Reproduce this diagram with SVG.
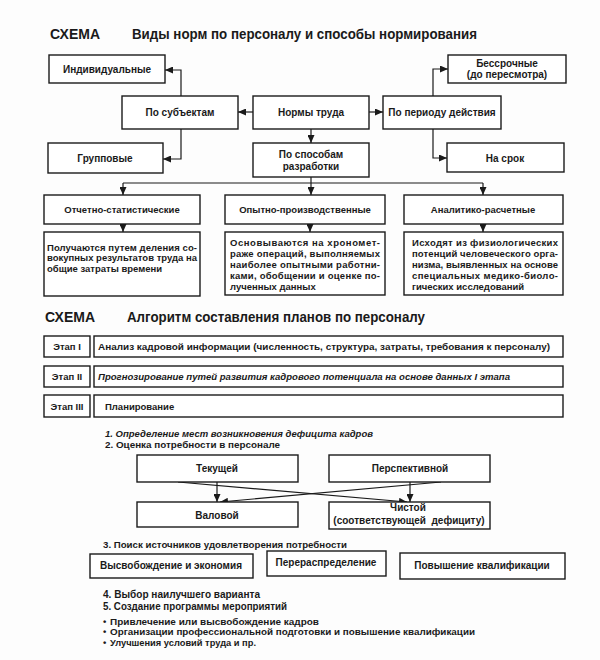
<svg xmlns="http://www.w3.org/2000/svg" width="600" height="660" viewBox="0 0 600 660">
<style>
.bg{fill:#fdfdfd}
.b{fill:#fff;stroke:#1a1a1a;stroke-width:1.4}
.t{font-family:"Liberation Sans",Arial,sans-serif;font-weight:bold;font-size:10px;fill:#1a1a1a}
.s{font-size:9.5px}
.h{font-size:14px}
.c{text-anchor:middle}
.i{font-style:italic}
.ln{fill:none;stroke:#1a1a1a;stroke-width:1.2;marker-end:url(#ah)}
.pl{fill:none;stroke:#1a1a1a;stroke-width:1.2}
</style>
<defs>
<marker id="ah" markerUnits="userSpaceOnUse" markerWidth="8" markerHeight="7" refX="8" refY="3.5" orient="auto">
<path d="M0,0 L8,3.5 L0,7 z" fill="#1a1a1a"/>
</marker>
</defs>
<rect class="bg" x="0" y="0" width="600" height="660"/>

<!-- Schema 1 title -->
<text class="t h" x="50" y="39">СХЕМА</text>
<text class="t h" x="132" y="39" textLength="345" lengthAdjust="spacingAndGlyphs">Виды норм по персоналу и способы нормирования</text>

<g id="connectors1">
<path class="ln" d="M181,96 V70 H165"/>
<path class="ln" d="M181,129 V159 H163"/>
<path class="ln" d="M253,112 H238"/>
<path class="ln" d="M369,112 H383"/>
<path class="ln" d="M311,129 V143"/>
<path class="ln" d="M433,96 V69 H448"/>
<path class="ln" d="M433,129 V158 H447"/>
<path class="ln" d="M311,177 V195"/>
<path class="pl" d="M123,183 H483"/>
<path class="ln" d="M123,183 V195"/>
<path class="ln" d="M483,183 V195"/>
<path class="ln" d="M123,224 V232"/>
<path class="ln" d="M310,224 V232"/>
<path class="ln" d="M483,224 V232"/>
</g>

<g id="individual"><rect class="b" x="49" y="55" width="116" height="28"/><text class="t c" x="107" y="72.5">Индивидуальные</text></g>
<g id="by-subject"><rect class="b" x="122" y="96" width="116" height="33"/><text class="t c" x="180" y="116">По субъектам</text></g>
<g id="labor-norms"><rect class="b" x="253" y="96" width="116" height="33"/><text class="t c" x="311" y="116">Нормы труда</text></g>
<g id="by-period"><rect class="b" x="383" y="96" width="118" height="33"/><text class="t c" x="442" y="116">По периоду действия</text></g>
<g id="group"><rect class="b" x="48" y="143" width="115" height="30"/><text class="t c" x="105" y="162">Групповые</text></g>
<g id="indefinite"><rect class="b" x="448" y="55" width="118" height="28"/><text class="t c" x="507" y="66.5">Бессрочные</text><text class="t c" x="507" y="78">(до пересмотра)</text></g>
<g id="fixed-term"><rect class="b" x="447" y="143" width="117" height="29"/><text class="t c" x="505" y="161.5">На срок</text></g>
<g id="by-method"><rect class="b" x="253" y="143" width="116" height="34"/><text class="t c" x="311" y="157.5">По способам</text><text class="t c" x="311" y="169.5">разработки</text></g>

<g id="statistical"><rect class="b" x="44" y="195" width="156" height="29"/><text class="t s c" x="122" y="213">Отчетно-статистические</text></g>
<g id="experimental"><rect class="b" x="225" y="195" width="160" height="29"/><text class="t s c" x="305" y="213">Опытно-производственные</text></g>
<g id="analytical"><rect class="b" x="404" y="195" width="159" height="29"/><text class="t s c" x="483" y="213">Аналитико-расчетные</text></g>

<g id="statistical-desc"><rect class="b" x="44" y="232" width="156" height="64"/>
<text class="t s" x="47" y="250.5" textLength="150" lengthAdjust="spacing">Получаются путем деления со-</text>
<text class="t s" x="47" y="261" textLength="150" lengthAdjust="spacing">вокупных результатов труда на</text>
<text class="t s" x="47" y="271.5">общие затраты времени</text>
</g>
<g id="experimental-desc"><rect class="b" x="225" y="232" width="160" height="63"/>
<text class="t s" x="230" y="246" textLength="150" lengthAdjust="spacing">Основываются на хрономет-</text>
<text class="t s" x="230" y="257" textLength="150" lengthAdjust="spacing">раже операций, выполняемых</text>
<text class="t s" x="230" y="268" textLength="150" lengthAdjust="spacing">наиболее опытными работни-</text>
<text class="t s" x="230" y="279" textLength="150" lengthAdjust="spacing">ками, обобщении и оценке по-</text>
<text class="t s" x="230" y="290">лученных данных</text>
</g>
<g id="analytical-desc"><rect class="b" x="404" y="232" width="159" height="63"/>
<text class="t s" x="412" y="246" textLength="146" lengthAdjust="spacing">Исходят из физиологических</text>
<text class="t s" x="412" y="257" textLength="146" lengthAdjust="spacing">потенций человеческого орга-</text>
<text class="t s" x="412" y="268" textLength="146" lengthAdjust="spacing">низма, выявленных на основе</text>
<text class="t s" x="412" y="279" textLength="146" lengthAdjust="spacing">специальных  медико-биоло-</text>
<text class="t s" x="412" y="290">гических исследований</text>
</g>

<!-- Schema 2 -->
<text class="t h" x="45" y="322">СХЕМА</text>
<text class="t h" x="127" y="322" textLength="298" lengthAdjust="spacingAndGlyphs">Алгоритм составления планов по персоналу</text>

<g id="stage1"><rect class="b" x="44" y="336" width="46" height="21"/><text class="t s c" x="67" y="350">Этап I</text>
<rect class="b" x="94" y="336" width="469" height="21"/><text class="t s" x="98" y="350" textLength="452" lengthAdjust="spacingAndGlyphs">Анализ кадровой информации (численность, структура, затраты, требования к персоналу)</text></g>
<g id="stage2"><rect class="b" x="44" y="366" width="46" height="21"/><text class="t s c" x="67" y="380">Этап II</text>
<rect class="b" x="94" y="366" width="469" height="21"/><text class="t s i" x="98" y="380" textLength="412" lengthAdjust="spacingAndGlyphs">Прогнозирование путей развития кадрового потенциала на основе данных I этапа</text></g>
<g id="stage3"><rect class="b" x="44" y="395" width="46" height="22"/><text class="t s c" x="67" y="409.5">Этап III</text>
<rect class="b" x="94" y="395" width="469" height="22"/><text class="t s" x="105" y="409.5">Планирование</text></g>

<text class="t s i" x="105" y="437" textLength="268" lengthAdjust="spacingAndGlyphs">1. Определение мест возникновения дефицита кадров</text>
<text class="t s" x="105" y="448" textLength="175" lengthAdjust="spacingAndGlyphs">2. Оценка потребности в персонале</text>

<g id="connectors2">
<path class="ln" d="M217,482 V502"/>
<path class="ln" d="M410,482 V502"/>
<path class="ln" d="M178,482 L407,502"/>
<path class="ln" d="M441,482 L220,502"/>
</g>

<g id="current"><rect class="b" x="137" y="455" width="161" height="27"/><text class="t c" x="217" y="472">Текущей</text></g>
<g id="perspective"><rect class="b" x="329" y="455" width="161" height="27"/><text class="t c" x="410" y="472">Перспективной</text></g>
<g id="gross"><rect class="b" x="137" y="502" width="161" height="25"/><text class="t c" x="217" y="518.5">Валовой</text></g>
<g id="net"><rect class="b" x="329" y="502" width="161" height="27"/><text class="t c" x="408" y="510.5">Чистой</text><text class="t c" x="409" y="523.5" xml:space="preserve">(соответствующей  дефициту)</text></g>

<text class="t s" x="103" y="547.5" textLength="244" lengthAdjust="spacingAndGlyphs">3. Поиск источников удовлетворения потребности</text>

<g id="release"><rect class="b" x="90" y="554" width="163" height="24"/><text class="t c" x="171" y="569">Высвобождение и экономия</text></g>
<g id="redistribution"><rect class="b" x="267" y="551" width="119" height="25"/><text class="t c" x="326" y="566">Перераспределение</text></g>
<g id="qualification"><rect class="b" x="400" y="553" width="165" height="26"/><text class="t c" x="482" y="569">Повышение квалификации</text></g>

<text class="t" x="103" y="597.5" textLength="157" lengthAdjust="spacingAndGlyphs">4. Выбор наилучшего варианта</text>
<text class="t" x="103" y="609.5" textLength="184" lengthAdjust="spacingAndGlyphs">5. Создание программы мероприятий</text>
<text class="t s" x="103" y="624.5">•</text><text class="t s" x="110" y="624.5" textLength="209" lengthAdjust="spacingAndGlyphs">Привлечение или высвобождение кадров</text>
<text class="t s" x="103" y="635">•</text><text class="t s" x="110" y="635" textLength="365" lengthAdjust="spacingAndGlyphs">Организации профессиональной подготовки и повышение квалификации</text>
<text class="t s" x="103" y="645.5">•</text><text class="t s" x="110" y="645.5" textLength="146" lengthAdjust="spacingAndGlyphs">Улучшения условий труда и пр.</text>
</svg>
